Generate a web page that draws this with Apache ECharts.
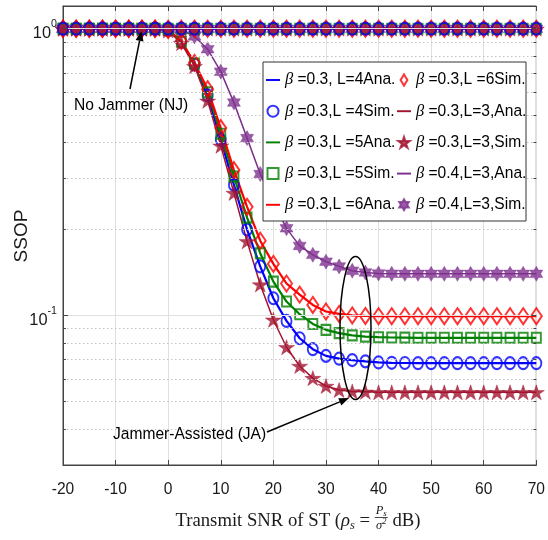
<!DOCTYPE html>
<html><head><meta charset="utf-8">
<script src="https://cdn.jsdelivr.net/npm/echarts@6/dist/echarts.min.js"></script>
<style>html,body{margin:0;padding:0;background:#fff}#c{width:548px;height:540px}</style>
</head><body><div id="c"></div>
<script>
// ---------- data ----------
const SNR = [-20,-17.5,-15,-12.5,-10,-7.5,-5,-2.5,0,2.5,5,7.5,10,12.5,15,17.5,20,22.5,25,27.5,30,32.5,35,37.5,40,42.5,45,47.5,50,52.5,55,57.5,60,62.5,65,67.5,70];
// Jammer-assisted (JA) curves
const jaB3L4 = [1,1,1,1,1,1,1,1,0.99,0.90,0.75,0.585,0.41,0.285,0.199,0.148,0.1146,0.0955,0.0831,0.0761,0.0721,0.0705,0.0697,0.0690,0.0684,0.0682,0.0681,0.068,0.068,0.068,0.068,0.068,0.068,0.068,0.068,0.068,0.068];
const jaB3L5 = [1,1,1,1,1,1,1,1,0.99,0.90,0.755,0.60,0.43,0.305,0.219,0.1646,0.131,0.1116,0.1008,0.0932,0.0889,0.0866,0.0850,0.0842,0.0838,0.0836,0.0835,0.0834,0.0834,0.0834,0.0834,0.0834,0.0834,0.0834,0.0834,0.0834,0.0834];
const jaB3L6 = [1,1,1,1,1,1,1,1,0.99,0.905,0.76,0.615,0.45,0.321,0.239,0.182,0.151,0.129,0.118,0.1086,0.103,0.101,0.0998,0.0994,0.0992,0.0992,0.0992,0.0992,0.0992,0.0992,0.0992,0.0992,0.0992,0.0992,0.0992,0.0992,0.0992];
const jaB3L3 = [1,1,1,1,1,1,1,1,0.985,0.89,0.74,0.56,0.39,0.267,0.181,0.128,0.0964,0.0773,0.0665,0.0603,0.0566,0.0548,0.0542,0.054,0.0538,0.0538,0.0538,0.0538,0.0538,0.0538,0.0538,0.0538,0.0538,0.0538,0.0538,0.0538,0.0538];
const jaB4L3 = [1,1,1,1,1,1,1,1,1,0.99,0.94,0.848,0.708,0.552,0.415,0.311,0.248,0.201,0.1745,0.1624,0.1538,0.148,0.143,0.141,0.1398,0.1395,0.1394,0.1394,0.1394,0.1394,0.1394,0.1394,0.1394,0.1394,0.1394,0.1394,0.1394];
// No-jammer (NJ) curves: all at 10^0
const noJammer = [1,1,1,1,1,1,1,1,1,1,1,1,1,1,1,1,1,1,1,1,1,1,1,1,1,1,1,1,1,1,1,1,1,1,1,1,1];
// axis ticks
const xMin = -20, xMax = 70, xStep = 10;
const yMin = 0.03, yMax = 1.2;
const yMajor = [0.1, 1];
const yMajorExp = ['-1', '0'];
const yMinor = [0.04,0.05,0.06,0.07,0.08,0.09,0.2,0.3,0.4,0.5,0.6,0.7,0.8,0.9];

// ---------- fonts ----------
const mctx = document.createElement('canvas').getContext('2d');
function hasFont(f){
  const t='abcdefghijklmnopqrstuvwxyz0123456789ABCDEF';
  mctx.font='40px monospace'; const a=mctx.measureText(t).width;
  mctx.font='40px "'+f+'", monospace'; const b=mctx.measureText(t).width;
  return Math.abs(a-b) > 0.5;
}
const NARROW = hasFont('Liberation Sans Narrow');
const SANS = NARROW ? '"Liberation Sans Narrow"' : '"Liberation Sans"';
const K = NARROW ? 1 : 0.82;
const SERIF = '"Liberation Serif"';
const TXT = '#1a1a1a';

const L = v => Math.log10(v);
const pts = arr => arr.map((v, i) => [SNR[i], L(v)]);

// ---------- symbols ----------
function starPath(n, inner){
  let p='';
  for(let i=0;i<2*n;i++){
    const r = i%2 ? inner : 1;
    const a = -Math.PI/2 + i*Math.PI/n;
    p += (i?'L':'M') + (r*Math.cos(a)).toFixed(3) + ',' + (r*Math.sin(a)).toFixed(3);
  }
  return 'path://' + p + 'Z';
}
const PENTA = starPath(5, 0.382);
const HEXA = starPath(6, 0.577);
const DIAM = 'path://M0,-1L0.62,0L0,1L-0.62,0Z';
const SQR = 'path://M0,0L1,0L1,1L0,1Z';
const LINEICON = 'path://M0,0L16,0L16,2.2L0,2.2Z';

const curves = [
  {ana:'β =0.3, L=4Ana.', sim:'β =0.3,L =4Sim.', data:jaB3L4, color:'#0000ff', lw:2.2, sym:'circle', size:[10,12], hollow:true},
  {ana:'β =0.3,L =5Ana.', sim:'β =0.3,L =5Sim.', data:jaB3L5, color:'#008000', lw:2.2, sym:SQR, size:[9,10], hollow:true},
  {ana:'β =0.3,L =6Ana.', sim:'β =0.3,L =6Sim.', data:jaB3L6, color:'#ff0000', lw:2.2, sym:DIAM, size:[11,16], hollow:true},
  {ana:'β =0.3,L=3,Ana.', sim:'β =0.3,L=3,Sim.', data:jaB3L3, color:'#a2142f', lw:1.5, sym:PENTA, size:[16,15], hollow:false},
  {ana:'β =0.4,L=3,Ana.', sim:'β =0.4,L=3,Sim.', data:jaB4L3, color:'#7e2f8e', lw:1.5, sym:HEXA, size:[13,15], hollow:false}
];

function lineSeries(name, c, data){
  return {type:'line', name, data, symbol:'none', lineStyle:{color:c.color, width:c.lw},
    itemStyle:{color:c.color}, z:3, silent:true, animation:false};
}
function simSeries(name, c, data){
  return {type:'scatter', name, data, symbol:c.sym, symbolSize:c.size,
    itemStyle: c.hollow ? {color:'rgba(0,0,0,0)', borderColor:c.color, borderWidth:2}
                        : {color:c.color, borderColor:c.color, borderWidth:0.5},
    z:4, silent:true, animation:false};
}

const series = [];
// helper series carrying grid lines, ticks and y labels
const gridLines = [];
const xl = xMin, xr = xMax;
yMinor.forEach(v => {
  gridLines.push([{coord:[xl, L(v)], lineStyle:{type:[1.5,2.5], color:'#c4c4c4', width:1}}, {coord:[xr, L(v)]}]);
  gridLines.push([{coord:[xl, L(v)], lineStyle:{type:'solid', color:'#444', width:1}}, {coord:[xl+0.55, L(v)]}]);
  gridLines.push([{coord:[xr-0.55, L(v)], lineStyle:{type:'solid', color:'#444', width:1}}, {coord:[xr, L(v)]}]);
});
yMajor.forEach((v, i) => {
  gridLines.push([{coord:[xl, L(v)], lineStyle:{type:'solid', color:'#e0e0e0', width:1},
    label:{show:true, position:'start', distance:6, formatter:'{b|10}{s|' + yMajorExp[i] + '}'}}, {coord:[xr, L(v)]}]);
  gridLines.push([{coord:[xl, L(v)], lineStyle:{type:'solid', color:'#444', width:1}}, {coord:[xl+0.95, L(v)]}]);
  gridLines.push([{coord:[xr-0.95, L(v)], lineStyle:{type:'solid', color:'#444', width:1}}, {coord:[xr, L(v)]}]);
});
series.push({type:'line', name:'_grid', data:[], z:1, silent:true, animation:false,
  markLine:{silent:true, symbol:['none','none'], animation:false,
    label:{show:false, color:TXT,
      rich:{b:{fontFamily:SANS, fontSize:20*K, color:TXT, verticalAlign:'middle', padding:[10,0,0,0]},
            s:{fontFamily:SANS, fontSize:13*K, color:TXT, verticalAlign:'middle', padding:[0,0,9,0]}}},
    emphasis:{disabled:true}, data:gridLines}});

curves.forEach(c => {
  series.push(lineSeries(c.ana, c, pts(c.data)));
  series.push(simSeries(c.sim, c, pts(c.data)));
});
// NJ curves (drawn on top, blue last)
[4,3,1,2,0].forEach(k => {
  const c = curves[k];
  series.push(lineSeries('NJ ' + c.ana, c, pts(noJammer)));
  series.push(simSeries('NJ ' + c.sim, c, pts(noJammer)));
});

// ---------- x-axis title (built as text pieces) ----------
function tw(t, f){ mctx.font = f; return mctx.measureText(t).width; }
const F = (it, sz) => (it ? 'italic ' : '') + sz + 'px ' + SERIF;
const tSz = 18.7;
const titleParts = [
  {t:'Transmit SNR of ST (', f:F(false,tSz), dy:0},
  {t:'ρ', f:F(true,tSz), dy:0},
  {t:'s', f:F(true,12.5), dy:5},
  {t:' = ', f:F(false,tSz), dy:0},
  {frac:true},
  {t:' dB)', f:F(false,tSz), dy:0}
];
const numW = tw('P', F(true,12.5)) + tw('s', F(true,9));
const denW = tw('σ', F(true,12.5)) + tw('2', F(true,9));
const fracW = Math.max(numW, denW) + 2;
let totalW = 0;
titleParts.forEach(p => { p.w = p.frac ? fracW : tw(p.t, p.f); totalW += p.w; });
const titleCY = 521, titleCX = 298;
let cx = titleCX - totalW/2;
const titleEls = [];
titleParts.forEach(p => {
  if (p.frac) {
    const x0 = cx + (fracW - numW)/2, x1 = cx + (fracW - denW)/2;
    titleEls.push({type:'text', x:x0, y:titleCY-10, z:30, style:{text:'P', font:F(true,12.5), fill:TXT, align:'left', verticalAlign:'middle'}});
    titleEls.push({type:'text', x:x0+tw('P',F(true,12.5)), y:titleCY-7, z:30, style:{text:'s', font:F(true,9), fill:TXT, align:'left', verticalAlign:'middle'}});
    titleEls.push({type:'line', z:30, shape:{x1:cx, y1:titleCY-3.5, x2:cx+fracW, y2:titleCY-3.5}, style:{stroke:TXT, lineWidth:0.8}});
    titleEls.push({type:'text', x:x1, y:titleCY+5, z:30, style:{text:'σ', font:F(true,12.5), fill:TXT, align:'left', verticalAlign:'middle'}});
    titleEls.push({type:'text', x:x1+tw('σ',F(true,12.5)), y:titleCY+1, z:30, style:{text:'2', font:F(true,9), fill:TXT, align:'left', verticalAlign:'middle'}});
  } else {
    titleEls.push({type:'text', x:cx, y:titleCY+p.dy, z:30, style:{text:p.t, font:p.f, fill:TXT, align:'left', verticalAlign:'middle'}});
  }
  cx += p.w;
});

function arrow(x1,y1,x2,y2){
  const a = Math.atan2(y2-y1, x2-x1), hl = 10, hw = 4;
  const bx = x2 - hl*Math.cos(a), by = y2 - hl*Math.sin(a);
  return [
    {type:'line', z:30, shape:{x1,y1,x2:bx,y2:by}, style:{stroke:'#000', lineWidth:1.5}},
    {type:'polygon', z:30, shape:{points:[[x2,y2],[bx+hw*Math.sin(a), by-hw*Math.cos(a)],[bx-hw*Math.sin(a), by+hw*Math.cos(a)]]}, style:{fill:'#000'}}
  ];
}

const legendRich = {
  b:{fontFamily:SERIF, fontStyle:'italic', fontSize:20*K, color:'#000', lineHeight:20},
  t:{fontFamily:SANS, fontSize:19*K, color:'#000', lineHeight:20}
};
const legendFmt = name => '{b|β}{t|' + name.slice(1) + '}';
const legendCommon = {orient:'vertical', itemWidth:14, itemHeight:11, itemGap:11.2, padding:0,
  formatter:legendFmt, textStyle:{rich:legendRich, lineHeight:20}, z:20,
  selectedMode:false, backgroundColor:'transparent', borderWidth:0};
const legendItem = name => {
  const c = curves.find(k => k.ana === name);
  return c ? {name, icon:LINEICON} : {name};
};
const legendNames = curves.flatMap(c => [c.ana, c.sim]);

const option = {
  animation:false,
  backgroundColor:'#fff',
  textStyle:{fontFamily:SANS},
  grid:{left:63, right:9.5, top:6, bottom:75, show:true, borderColor:'#444', borderWidth:1, backgroundColor:'transparent'},
  xAxis:[
    {type:'value', min:xMin, max:xMax, interval:xStep, position:'bottom',
     axisLine:{show:true, onZero:false, lineStyle:{color:'#444', width:1}},
     axisTick:{show:true, inside:true, length:5, lineStyle:{color:'#444'}},
     axisLabel:{show:true, margin:17, fontFamily:SANS, fontSize:19*K, color:TXT},
     splitLine:{show:true, lineStyle:{color:'#e0e0e0', width:1}}},
    {type:'value', min:xMin, max:xMax, interval:xStep, position:'top',
     axisLine:{show:true, onZero:false, lineStyle:{color:'#444', width:1}},
     axisTick:{show:true, inside:true, length:5, lineStyle:{color:'#444'}},
     axisLabel:{show:false}, splitLine:{show:false}}
  ],
  yAxis:{type:'value', min:L(yMin), max:L(yMax),
     axisLine:{show:true, onZero:false, lineStyle:{color:'#444', width:1}},
     axisTick:{show:false}, axisLabel:{show:false}, splitLine:{show:false}},
  legend:[
    Object.assign({}, legendCommon, {left:266, top:70, data: legendNames.slice(0,5).map(legendItem)}),
    Object.assign({}, legendCommon, {left:397, top:70, data: legendNames.slice(5).map(legendItem)})
  ],
  graphic:{elements:[
    {type:'rect', z:15, shape:{x:263, y:62, width:263, height:159}, style:{fill:'#fff', stroke:'#333', lineWidth:1}},
    {type:'text', x:22, y:236, rotation:Math.PI/2, z:30, style:{text:'SSOP', font:(NARROW?'21px ':'19px ') + SANS, fill:TXT, align:'center', verticalAlign:'middle'}},
    {type:'text', x:74, y:106, z:30, style:{text:'No Jammer (NJ)', font:(19*K)+'px '+SANS, fill:'#000', align:'left', verticalAlign:'middle'}},
    ...arrow(130, 89, 141.5, 31),
    {type:'text', x:113, y:435, z:30, style:{text:'Jammer-Assisted (JA)', font:(19*K)+'px '+SANS, fill:'#000', align:'left', verticalAlign:'middle'}},
    ...arrow(267, 432, 349, 398),
    {type:'ellipse', z:30, shape:{cx:355.5, cy:328, rx:15.5, ry:71.5}, style:{fill:'none', stroke:'#000', lineWidth:1.5}},
    ...titleEls
  ]},
  series
};
const chart = echarts.init(document.getElementById('c'), null, {renderer:'canvas'});
chart.setOption(option);
</script>
</body></html>
